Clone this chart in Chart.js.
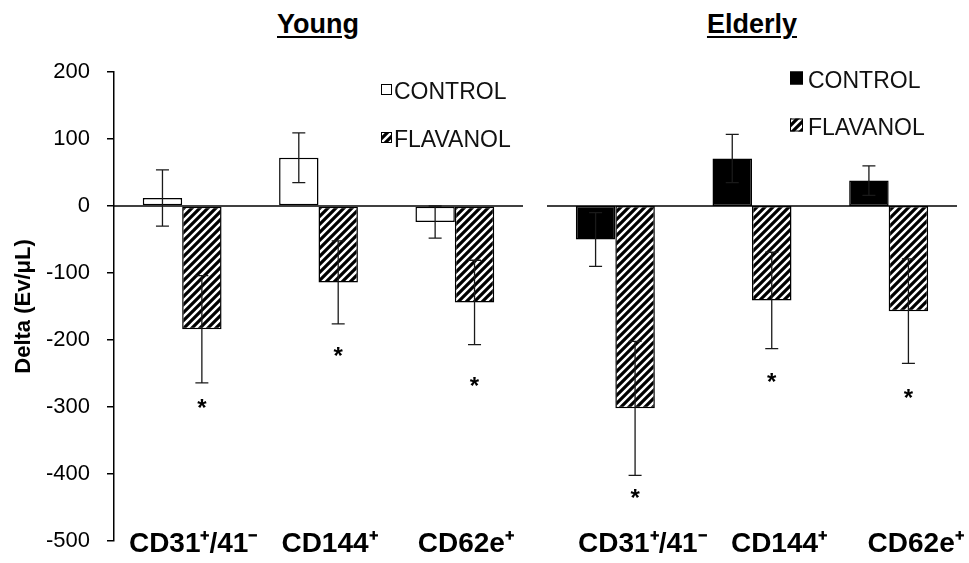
<!doctype html>
<html lang="en">
<head>
    <meta charset="UTF-8">
    <title>Delta (Ev/μL) - Young vs Elderly</title>
    <style>
        body {
            margin: 0;
            background: #fff;
            font-family: 'Liberation Sans', Arial, sans-serif;
        }
        #wrap {
            position: relative;
            width: 969px;
            height: 563px;
        }
        .panel-title {
            position: absolute;
            top: 11px;
            width: 410px;
            text-align: center;
            font-weight: bold;
            font-size: 27px;
            line-height: 1;
            text-decoration: underline;
            text-underline-offset: 3px;
            color: #000;
        }
        canvas {
            position: absolute;
            top: 0;
        }
    </style>
    <script src="https://cdn.jsdelivr.net/npm/chart.js@4"></script>
</head>
<body>
<div id="wrap">
    <div class="panel-title" style="left:113px">Young</div>
    <div class="panel-title" style="left:547px">Elderly</div>
    <canvas id="youngChart" width="540" height="563" style="left:0"></canvas>
    <canvas id="elderlyChart" width="429" height="563" style="left:540px"></canvas>
</div>

<script>
    // values
    const categories = ['CD31⁺/41⁻', 'CD144⁺', 'CD62e⁺'];
    const seriesNames = ['CONTROL', 'FLAVANOL'];

    const youngControl = [12, 72, -24];
    const youngControlErr = [42, 37, 24];
    const youngFlavanol = [-184, -114, -144];
    const youngFlavanolErr = [80, 62, 63];
    const youngStars = [-293, -216, -260];

    const elderlyControl = [-50, 71, 38];
    const elderlyControlErr = [40, 36, 22];
    const elderlyFlavanol = [-302, -141, -157];
    const elderlyFlavanolErr = [100, 72, 78];
    const elderlyStars = [-427, -255, -279];

    const yMin = -500;
    const yMax = 200;
    const yStep = 100;
    const yTitle = 'Delta (Ev/μL)';

    const FONT = "'Liberation Sans', Arial, sans-serif";
    Chart.defaults.font.family = FONT;
    Chart.defaults.color = '#000';

    function makeHatch(ctx) {
        const c = document.createElement('canvas');
        c.width = 8;
        c.height = 8;
        const g = c.getContext('2d');
        g.fillStyle = '#fff';
        g.fillRect(0, 0, 8, 8);
        g.strokeStyle = '#000';
        g.lineWidth = 3.2;
        g.beginPath();
        g.moveTo(-1, 9); g.lineTo(9, -1);
        g.moveTo(-3, 3); g.lineTo(3, -3);
        g.moveTo(5, 11); g.lineTo(11, 5);
        g.stroke();
        return ctx.createPattern(c, 'repeat');
    }

    // zero line, error bars, asterisks, category labels and legend
    const extras = {
        id: 'extras',
        afterDatasetsDraw(chart) {
            const ctx = chart.ctx;
            const area = chart.chartArea;
            const y = chart.scales.y;
            ctx.save();
            ctx.strokeStyle = '#000';
            ctx.lineWidth = 1.5;
            const y0 = y.getPixelForValue(0);
            ctx.beginPath();
            ctx.moveTo(area.left, y0);
            ctx.lineTo(area.right, y0);
            ctx.stroke();

            chart.data.datasets.forEach((ds, i) => {
                const meta = chart.getDatasetMeta(i);
                meta.data.forEach((bar, j) => {
                    const v = ds.data[j];
                    const e = ds.errors[j];
                    const top = y.getPixelForValue(v + e);
                    const bot = y.getPixelForValue(v - e);
                    ctx.strokeStyle = '#1a1a1a';
                    ctx.lineWidth = 1.3;
                    ctx.beginPath();
                    ctx.moveTo(bar.x, top); ctx.lineTo(bar.x, bot);
                    ctx.moveTo(bar.x - 6.5, top); ctx.lineTo(bar.x + 6.5, top);
                    ctx.moveTo(bar.x - 6.5, bot); ctx.lineTo(bar.x + 6.5, bot);
                    ctx.stroke();
                    if (ds.stars) {
                        ctx.fillStyle = '#000';
                        ctx.font = 'bold 24px ' + FONT;
                        ctx.textAlign = 'center';
                        ctx.textBaseline = 'alphabetic';
                        ctx.fillText('*', bar.x, y.getPixelForValue(ds.stars[j]) + 13.5);
                    }
                });
            });
            ctx.restore();
        },
        afterDraw(chart, args, opts) {
            const ctx = chart.ctx;
            const area = chart.chartArea;
            const x = chart.scales.x;
            ctx.save();

            // category labels under the plot
            ctx.font = 'bold 28px ' + FONT;
            ctx.fillStyle = '#000';
            ctx.textAlign = 'center';
            ctx.textBaseline = 'middle';
            chart.data.labels.forEach((lab, i) => {
                ctx.fillText(lab, x.getPixelForTick(i) + opts.labelOffset, area.bottom + opts.labelDrop);
            });

            // legend
            ctx.font = '23px ' + FONT;
            ctx.textAlign = 'left';
            chart.data.datasets.forEach((ds, i) => {
                const cy = area.top + opts.top + i * opts.gap;
                const bx = area.right - opts.right;
                const by = cy - 3.5 - opts.box / 2;
                ctx.fillStyle = ds.backgroundColor;
                ctx.fillRect(bx, by, opts.box, opts.box);
                ctx.strokeStyle = '#000';
                ctx.lineWidth = 1;
                ctx.strokeRect(bx + 0.5, by + 0.5, opts.box - 1, opts.box - 1);
                ctx.fillStyle = '#111';
                ctx.fillText(ds.label, bx + opts.box + opts.textGap, cy);
            });
            ctx.restore();
        }
    };

    function buildChart(id, control, controlErr, flav, flavErr, stars, controlColor, isLeft, extraOpts) {
        const ctx = document.getElementById(id).getContext('2d');
        const hatch = makeHatch(ctx);
        const yScale = {
            display: isLeft,
            min: yMin,
            max: yMax,
            ticks: {
                stepSize: yStep,
                color: '#000',
                font: { size: 22 },
                padding: 17
            },
            grid: {
                drawOnChartArea: false,
                tickLength: 7,
                color: '#000',
                lineWidth: 1.5
            },
            border: { color: '#000', width: 1.5 },
            title: {
                display: true,
                text: yTitle,
                color: '#000',
                font: { size: 22, weight: 'bold' },
                padding: { top: 11, bottom: 0 }
            }
        };
        if (isLeft) {
            yScale.afterFit = (scale) => {
                scale.width = 114;
                scale.paddingBottom = 0;
            };
        }
        return new Chart(ctx, {
            type: 'bar',
            data: {
                labels: categories,
                datasets: [
                    {
                        label: seriesNames[0],
                        data: control,
                        errors: controlErr,
                        backgroundColor: controlColor,
                        borderColor: '#000',
                        borderWidth: 1.5,
                        borderSkipped: false
                    },
                    {
                        label: seriesNames[1],
                        data: flav,
                        errors: flavErr,
                        stars: stars,
                        backgroundColor: hatch,
                        borderColor: '#000',
                        borderWidth: 1.5,
                        borderSkipped: false
                    }
                ]
            },
            options: {
                responsive: false,
                animation: false,
                categoryPercentage: 0.578,
                barPercentage: 1,
                layout: {
                    padding: isLeft
                        ? { top: 72, right: 17, bottom: 22, left: 0 }
                        : { top: 72, right: 12, bottom: 22, left: 7 }
                },
                plugins: {
                    legend: { display: false },
                    tooltip: { enabled: false },
                    extras: extraOpts
                },
                scales: {
                    x: { display: false },
                    y: yScale
                }
            },
            plugins: [extras]
        });
    }

    buildChart('youngChart', youngControl, youngControlErr, youngFlavanol, youngFlavanolErr, youngStars,
        '#fff', true, { right: 142, top: 21, gap: 48, box: 11, textGap: 2, labelOffset: 11, labelDrop: 3 });
    buildChart('elderlyChart', elderlyControl, elderlyControlErr, elderlyFlavanol, elderlyFlavanolErr, elderlyStars,
        '#000', false, { right: 167, top: 9.5, gap: 47, box: 13, textGap: 5, labelOffset: 27, labelDrop: 3 });
</script>
</body>
</html>
